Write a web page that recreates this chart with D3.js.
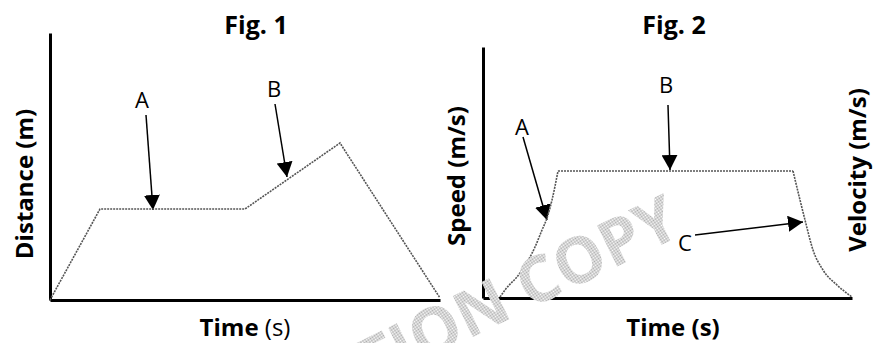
<!DOCTYPE html>
<html>
<head>
<meta charset="utf-8">
<script src="https://cdn.jsdelivr.net/npm/d3@7"></script>
<style>
  body { margin: 0; background: #fff; }
  svg { display: block; font-family: "Open Sans", sans-serif; }
</style>
</head>
<body>
<div id="chart"></div>
<script>
// Fig. 1 : distance-time
var fig1Time = [0, 5, 19.5, 29, 39];
var fig1Distance = [0, 9.1, 9.1, 15.7, 0.2];
var fig1Arrows = [
    { label: "A", from: [9.6, 18.5], to: [10.3, 9.0], text: [9.2, 19.2] },
    { label: "B", from: [22.5, 19.6], to: [23.7, 12.3], text: [22.4, 20.3] }
];

// Fig. 2 : speed-time (rise, plateau, fall)
var fig2Time = [1.7, 2.2, 3.7, 5.2, 5.9, 6.4, 6.9, 7.5, 31.0, 31.7, 32.2, 33.0, 34.0, 35.4, 36.9];
var fig2Speed = [0.1, 0.8, 2.5, 5.1, 6.8, 8.0, 9.8, 12.7, 12.7, 9.8, 7.8, 4.8, 2.8, 1.3, 0.1];
var fig2Arrows = [
    { label: "A", from: [4.0, 16.1], to: [6.4, 7.8], text: [3.9, 16.3] },
    { label: "B", from: [18.5, 19.3], to: [18.7, 12.8], text: [18.3, 20.5] },
    { label: "C", from: [21.2, 6.3], to: [32.0, 7.6], text: [20.2, 4.7] }
];

var w = 874;
var h = 343;

var svg = d3.select("#chart")
            .append("svg")
            .attr("width", w)
            .attr("height", h);

var defs = svg.append("defs");
defs.append("marker")
    .attr("id", "head")
    .attr("viewBox", "0 0 15 16")
    .attr("markerWidth", 15)
    .attr("markerHeight", 16)
    .attr("refX", 15)
    .attr("refY", 8)
    .attr("markerUnits", "userSpaceOnUse")
    .attr("orient", "auto")
    .append("path")
    .attr("d", "M0,0L15,8L0,16Z")
    .attr("fill", "#000");

// halftone for the watermark
var pat = defs.append("pattern")
    .attr("id", "dots")
    .attr("width", 2).attr("height", 2)
    .attr("patternUnits", "userSpaceOnUse");
pat.append("rect").attr("width", 2).attr("height", 2).attr("fill", "#fff");
pat.append("rect").attr("width", 1).attr("height", 1).attr("fill", "#aaa");
pat.append("rect").attr("x", 1).attr("y", 1).attr("width", 1).attr("height", 1).attr("fill", "#aaa");

function drawPanel(x, y, arrows) {
    var g = svg.append("g");

    //axes without ticks, only the thick domain line
    g.append("g")
        .attr("transform", "translate(0," + y.range()[0] + ")")
        .call(d3.axisBottom(x).tickValues([]).tickSizeOuter(0))
        .select(".domain").attr("stroke", "#000").attr("stroke-width", 3);
    g.append("g")
        .attr("transform", "translate(" + x.range()[0] + ",0)")
        .call(d3.axisLeft(y).tickValues([]).tickSizeOuter(0))
        .select(".domain").attr("stroke", "#000").attr("stroke-width", 3);

    arrows.forEach(function(a) {
        g.append("line")
            .attr("x1", x(a.from[0])).attr("y1", y(a.from[1]))
            .attr("x2", x(a.to[0])).attr("y2", y(a.to[1]))
            .attr("stroke", "#000")
            .attr("stroke-width", 1.5)
            .attr("marker-end", "url(#head)");
        g.append("text")
            .attr("x", x(a.text[0]))
            .attr("y", y(a.text[1]))
            .attr("text-anchor", "middle")
            .attr("font-size", 22)
            .text(a.label);
    });
    return g;
}

// Fig. 1
var x1 = d3.scaleLinear().domain([0, 39]).range([50, 440]);
var y1 = d3.scaleLinear().domain([0, 26.7]).range([300, 33]);
var g1 = drawPanel(x1, y1, fig1Arrows);

var line1 = d3.line()
    .x(function(d, i) { return x1(fig1Time[i]); })
    .y(function(d) { return y1(d); });
g1.append("path")
    .attr("d", line1(fig1Distance))
    .attr("fill", "none")
    .attr("stroke", "#555")
    .attr("stroke-width", 1.6)
    .attr("stroke-dasharray", "2,1");

// Fig. 2
var x2 = d3.scaleLinear().domain([0, 36.9]).range([483, 852]);
var y2 = d3.scaleLinear().domain([0, 25.1]).range([298, 47]);
var g2 = drawPanel(x2, y2, fig2Arrows);

var pts = fig2Time.map(function(t, i) { return [t, fig2Speed[i]]; });
var riseEnd = 7;   // index where plateau starts
var fallStart = 8; // index where plateau ends
var curve2 = d3.line()
    .x(function(d) { return x2(d[0]); })
    .y(function(d) { return y2(d[1]); })
    .curve(d3.curveMonotoneX);
[pts.slice(0, riseEnd + 1), pts.slice(riseEnd, fallStart + 1), pts.slice(fallStart)].forEach(function(seg) {
    g2.append("path")
        .attr("d", curve2(seg))
        .attr("fill", "none")
        .attr("stroke", "#555")
        .attr("stroke-width", 1.6)
        .attr("stroke-dasharray", "2,1");
});

// titles and axis labels
function label(txt, x, y, rot) {
    return svg.append("text")
        .attr("transform", "translate(" + x + "," + y + ")" + (rot ? " rotate(-90)" : ""))
        .attr("text-anchor", "middle")
        .attr("font-size", 24)
        .attr("font-weight", "bold")
        .text(txt);
}
label("Fig. 1", 256, 34).attr("font-size", 25);
label("Fig. 2", 674, 34).attr("font-size", 25);
label("Distance (m)", 33, 184, true);
label("Speed (m/s)", 465, 176, true);
label("Velocity (m/s)", 866, 170, true);
var t1 = label("Time ", 245, 336);
t1.append("tspan").attr("font-weight", "normal").text("(s)");
label("Time (s)", 673, 336);

// faint watermark across the middle (cut off at the bottom, as in the scan)
svg.append("text")
    .attr("transform", "translate(684,234) rotate(-26)")
    .attr("text-anchor", "end")
    .attr("font-size", 64)
    .attr("font-weight", "bold")
    .attr("fill", "url(#dots)")
    .text("INSPECTION COPY");
</script>
</body>
</html>
